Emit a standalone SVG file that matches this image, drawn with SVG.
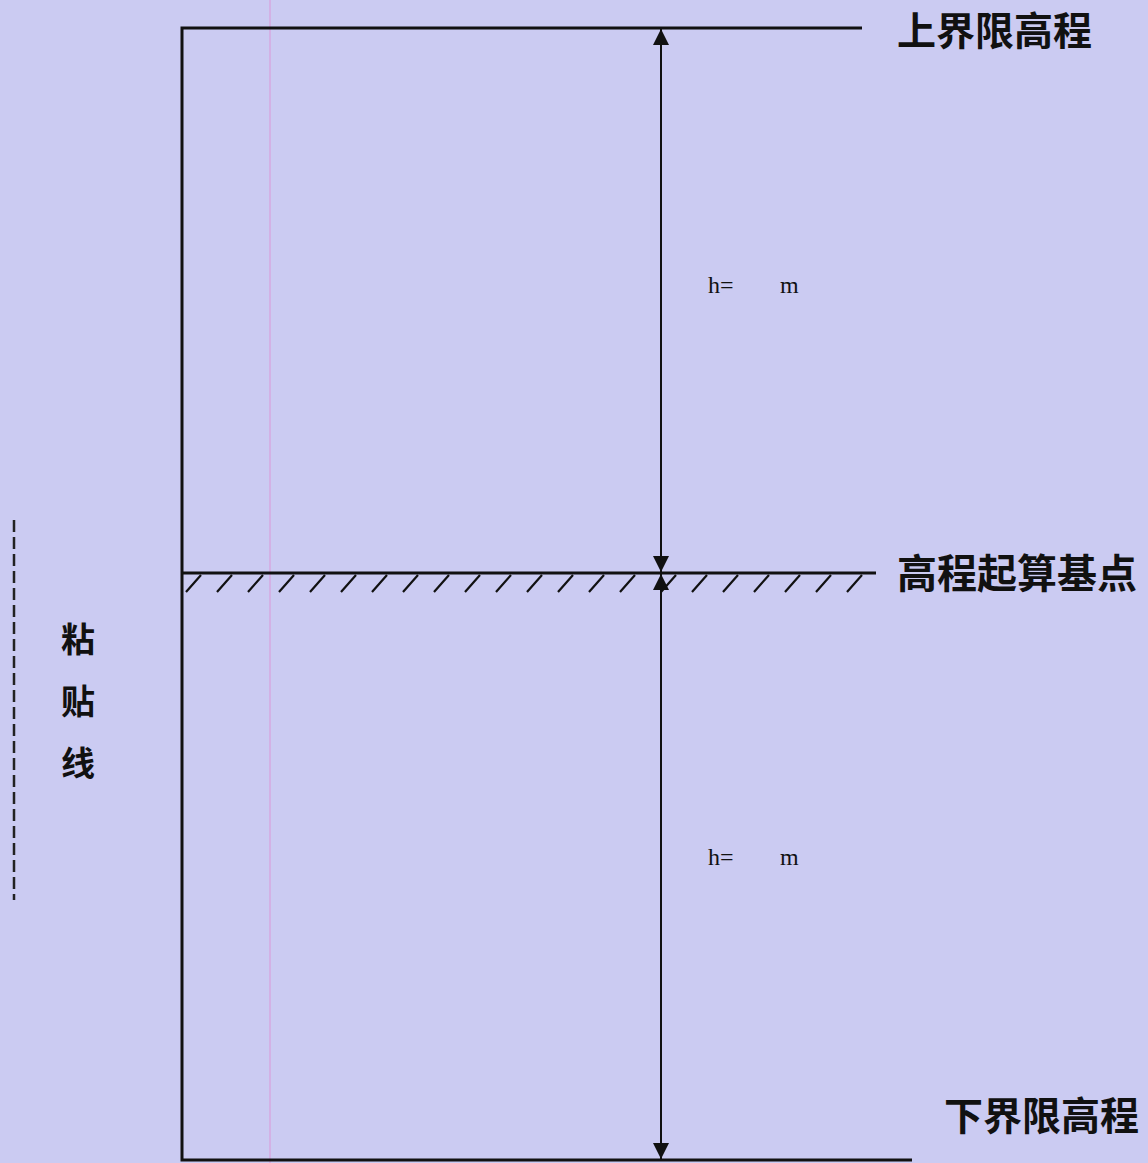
<svg xmlns="http://www.w3.org/2000/svg" width="1148" height="1163" viewBox="0 0 1148 1163">
<defs>
<style>
.ln{stroke:#111;stroke-width:3;fill:none}
.dim{stroke:#111;stroke-width:2;fill:none}
.ht{stroke:#111;stroke-width:2.2;fill:none}
.cn{font-family:"Noto Sans CJK SC",sans-serif;font-weight:bold;fill:#111}
.h{font-family:"Liberation Serif",serif;font-size:24px;fill:#111}
</style>
<marker id="ah" viewBox="0 0 10 10" refX="10" refY="5" markerWidth="16" markerHeight="16" markerUnits="userSpaceOnUse" orient="auto-start-reverse">
<path d="M0,0 L10,5 L0,10 Z" fill="#111"/>
</marker>
</defs>
<rect width="1148" height="1163" fill="#cbcbf2"/>
<line x1="270" y1="0" x2="270" y2="1163" stroke="#d9a0dc" stroke-width="1.2"/>
<g id="frame">
<polyline class="ln" points="862,28 182,28 182,1160 912,1160"/>
</g>
<g id="base">
<line class="ln" x1="182" y1="573" x2="876" y2="573"/>
<path class="ht" d="M201,575 L186,592 M232,575 L217,592 M263,575 L248,592 M294,575 L279,592 M325,575 L310,592 M356,575 L341,592 M387,575 L372,592 M418,575 L403,592 M449,575 L434,592 M480,575 L465,592 M511,575 L496,592 M542,575 L527,592 M573,575 L558,592 M604,575 L589,592 M635,575 L620,592 M676,575 L661,592 M707,575 L692,592 M738,575 L723,592 M769,575 L754,592 M800,575 L785,592 M831,575 L816,592 M862,575 L847,592"/>
</g>
<g id="connectors">
<line class="dim" x1="661" y1="29" x2="661" y2="572" marker-start="url(#ah)" marker-end="url(#ah)"/>
<line class="dim" x1="661" y1="574" x2="661" y2="1159" marker-start="url(#ah)" marker-end="url(#ah)"/>
</g>
<g id="labels">
<text class="cn" x="897" y="45" font-size="39">上界限高程</text>
<text class="cn" x="897" y="588" font-size="40">高程起算基点</text>
<text class="cn" x="944" y="1130" font-size="39">下界限高程</text>
<text class="h" x="708" y="293">h=</text>
<text class="h" x="780" y="293">m</text>
<text class="h" x="708" y="865">h=</text>
<text class="h" x="780" y="865">m</text>
</g>
<g id="paste-line">
<line x1="14" y1="520" x2="14" y2="900" stroke="#222" stroke-width="2.5" stroke-dasharray="12,5"/>
<text class="cn" x="78" y="652" font-size="34" text-anchor="middle">粘</text>
<text class="cn" x="78" y="714" font-size="34" text-anchor="middle">贴</text>
<text class="cn" x="78" y="776" font-size="34" text-anchor="middle">线</text>
</g>
</svg>
